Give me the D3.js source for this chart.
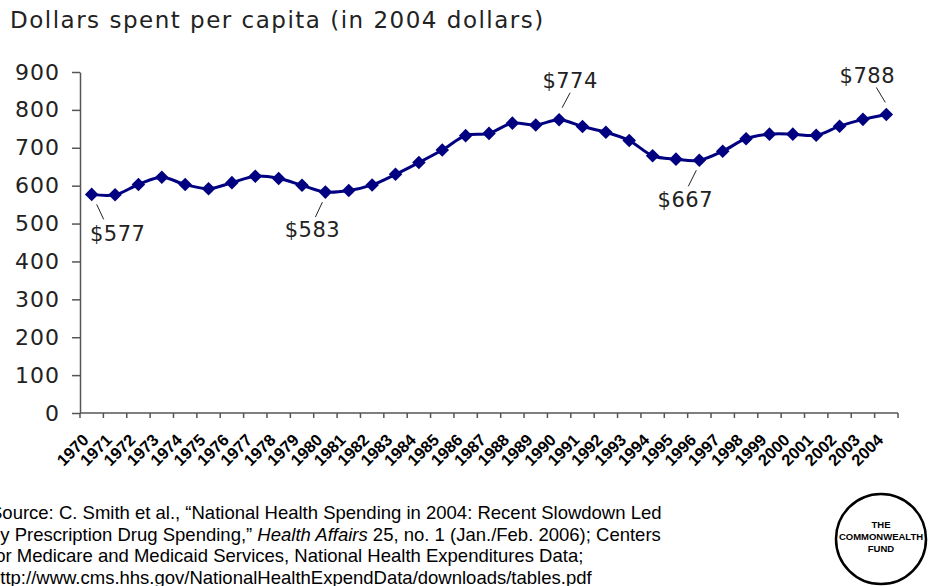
<!DOCTYPE html>
<html>
<head>
<meta charset="utf-8">
<script src="https://cdn.jsdelivr.net/npm/d3@7"></script>
<style>
  body { margin: 0; background: #fff; }
  svg { display: block; }
</style>
</head>
<body>
<div id="chart"></div>
<script>
var years = ["1970","1971","1972","1973","1974","1975","1976","1977","1978","1979",
             "1980","1981","1982","1983","1984","1985","1986","1987","1988","1989",
             "1990","1991","1992","1993","1994","1995","1996","1997","1998","1999",
             "2000","2001","2002","2003","2004"];
var spending = [577, 576, 603, 622, 603, 592, 608, 625, 619, 601,
                583, 587, 602, 630, 661, 694, 732, 738, 765, 760,
                774, 756, 741, 719, 679, 670, 667, 691, 724, 736,
                736, 733, 757, 775, 788];
var yTicks = [0, 100, 200, 300, 400, 500, 600, 700, 800, 900];
var callouts = ["1970", "1980", "1990", "1996", "2004"];
var titleText = "Dollars spent per capita (in 2004 dollars)";
var sourceLines = [
  ["Source: C. Smith et al., \u201cNational Health Spending in 2004: Recent Slowdown Led"],
  ["by Prescription Drug Spending,\u201d ", "Health Affairs", " 25, no. 1 (Jan./Feb. 2006); Centers"],
  ["for Medicare and Medicaid Services, National Health Expenditures Data;"],
  ["http://www.cms.hhs.gov/NationalHealthExpendData/downloads/tables.pdf"]
];
var logoLines = ["THE", "COMMONWEALTH", "FUND"];

// leader line + label placement relative to each callout point
var calloutLayout = {
  "1970": {l: [5, 10, 12, 25], t: [26, 47]},
  "1980": {l: [-3, 10, -10, 25], t: [-13, 45]},
  "1990": {l: [3, -12, 11, -27], t: [11, -32]},
  "1996": {l: [-3, 10, -11, 26], t: [-14, 47]},
  "2004": {l: [-1, -12, -10, -27], t: [-19, -31]}
};

var width = 929, height = 586;
var margin = {left: 80, right: 31, top: 72, bottom: 173};
var font = "'DejaVu Sans', Verdana, sans-serif";
var navy = "#000080";

var svg = d3.select("#chart").append("svg")
    .attr("width", width)
    .attr("height", height);

var x = d3.scaleBand()
    .domain(years)
    .range([margin.left, width - margin.right]);

var y = d3.scaleLinear()
    .domain([0, 900])
    .range([height - margin.bottom, margin.top]);

// title
svg.append("text")
    .attr("x", 10)
    .attr("y", 28)
    .style("font-family", font)
    .style("font-size", "23px")
    .style("letter-spacing", "1.5px")
    .style("fill", "#222")
    .text(titleText);

// y axis
var yAxis = svg.append("g")
    .attr("transform", "translate(" + margin.left + ",0)")
    .call(d3.axisLeft(y).tickValues(yTicks).tickSize(8).tickSizeOuter(0).tickPadding(12));

yAxis.select(".domain").attr("stroke", "#555").attr("stroke-width", 1.5);
yAxis.selectAll(".tick line").attr("stroke", "#555").attr("stroke-width", 1.5);
yAxis.selectAll(".tick text")
    .style("font-family", font)
    .style("font-size", "22px")
    .style("letter-spacing", "1px")
    .style("fill", "#222");

// x axis
var xAxis = svg.append("g")
    .attr("transform", "translate(0," + y(0) + ")");

xAxis.append("line")
    .attr("x1", x.range()[0])
    .attr("x2", x.range()[1])
    .attr("stroke", "#555")
    .attr("stroke-width", 1.5);

xAxis.selectAll(".xtick")
    .data(years.concat(["end"]))
    .enter().append("line")
    .attr("class", "xtick")
    .attr("x1", function(d, i) { return x.range()[0] + i * x.step(); })
    .attr("x2", function(d, i) { return x.range()[0] + i * x.step(); })
    .attr("y1", 0)
    .attr("y2", 5)
    .attr("stroke", "#555")
    .attr("stroke-width", 1.5);

xAxis.selectAll(".xlabel")
    .data(years)
    .enter().append("text")
    .attr("class", "xlabel")
    .attr("transform", function(d) {
        return "translate(" + (x(d) + x.bandwidth() / 2 - 2) + ",28) rotate(-45)";
    })
    .attr("text-anchor", "end")
    .style("font-family", "'Liberation Sans', Arial, sans-serif")
    .style("font-weight", "bold")
    .style("font-size", "16.5px")
    .style("fill", "#000")
    .text(function(d) { return d; });

// line + markers
var line = d3.line()
    .x(function(d, i) { return x(years[i]) + x.bandwidth() / 2; })
    .y(function(d) { return y(d); })
    .curve(d3.curveCatmullRom.alpha(0.5));

svg.append("path")
    .datum(spending)
    .attr("d", line)
    .attr("fill", "none")
    .attr("stroke", navy)
    .attr("stroke-width", 3);

var diamond = d3.symbol().type(d3.symbolSquare).size(92);

svg.selectAll(".marker")
    .data(spending)
    .enter().append("path")
    .attr("class", "marker")
    .attr("d", diamond)
    .attr("transform", function(d, i) {
        return "translate(" + (x(years[i]) + x.bandwidth() / 2) + "," + y(d) + ") rotate(45)";
    })
    .attr("fill", navy);

// callouts
var callout = svg.selectAll(".callout")
    .data(callouts)
    .enter().append("g")
    .attr("class", "callout")
    .attr("transform", function(d) {
        var i = years.indexOf(d);
        return "translate(" + (x(d) + x.bandwidth() / 2) + "," + y(spending[i]) + ")";
    });

callout.append("line")
    .attr("x1", function(d) { return calloutLayout[d].l[0]; })
    .attr("y1", function(d) { return calloutLayout[d].l[1]; })
    .attr("x2", function(d) { return calloutLayout[d].l[2]; })
    .attr("y2", function(d) { return calloutLayout[d].l[3]; })
    .attr("stroke", "#222")
    .attr("stroke-width", 1);

callout.append("text")
    .attr("x", function(d) { return calloutLayout[d].t[0]; })
    .attr("y", function(d) { return calloutLayout[d].t[1]; })
    .attr("text-anchor", "middle")
    .style("font-family", font)
    .style("font-size", "21px")
    .style("letter-spacing", "0.5px")
    .style("fill", "#222")
    .text(function(d) { return "$" + spending[years.indexOf(d)]; });

// source note
var source = svg.append("g")
    .style("font-family", "'Liberation Sans', Arial, sans-serif")
    .style("font-size", "18.5px")
    .style("fill", "#000");

sourceLines.forEach(function(parts, li) {
    var t = source.append("text")
        .attr("x", -10)
        .attr("y", 519 + li * 21.7);
    parts.forEach(function(p, pi) {
        t.append("tspan")
            .style("font-style", pi === 1 ? "italic" : "normal")
            .text(p);
    });
});

// logo
var logo = svg.append("g")
    .attr("transform", "translate(881,539)");

logo.append("circle")
    .attr("r", 45)
    .attr("fill", "#fff")
    .attr("stroke", "#000")
    .attr("stroke-width", 2.5);

logo.selectAll("text")
    .data(logoLines)
    .enter().append("text")
    .attr("y", function(d, i) { return -11.5 + i * 12; })
    .attr("text-anchor", "middle")
    .style("font-family", "'Liberation Sans', Arial, sans-serif")
    .style("font-weight", "bold")
    .style("font-size", "9.5px")
    .text(function(d) { return d; });
</script>
</body>
</html>
